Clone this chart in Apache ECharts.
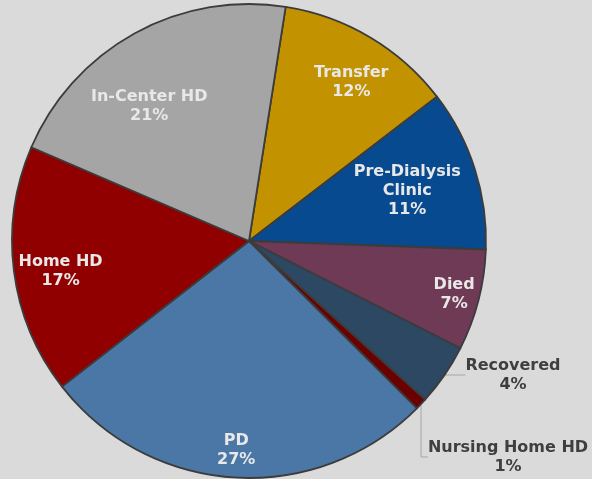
<!DOCTYPE html>
<html>
<head>
<meta charset="utf-8">
<script src="https://cdn.jsdelivr.net/npm/echarts@6/dist/echarts.min.js"></script>
<style>
  html, body { margin: 0; padding: 0; background: #dadada; }
  #chart { width: 592px; height: 479px; }
</style>
</head>
<body>
<div id="chart"></div>
<script>
// slice names, clockwise from just right of 12 o'clock
const categories = ['Transfer', 'Pre-Dialysis\nClinic', 'Died', 'Recovered', 'Nursing Home HD', 'PD', 'Home HD', 'In-Center HD']
const shares = [12.1, 11.0, 6.9, 4.2, 0.8, 27.0, 17.0, 21.0]
const colors = ['#c29200', '#074a8f', '#6e3a56', '#2d4862', '#6b0000', '#4a77a6', '#900000', '#a5a5a5']
const outsideLabels = ['Recovered', 'Nursing Home HD']

const CX = 249, CY = 241, R = 237
// how far out each inside label sits, as share of the radius, plus a small nudge
const labelDepth = [0.80, 0.69, 0.88, 0, 0, 0.87, 0.81, 0.72]
const labelNudge = { 0: [4, 7], 6: [5, 6], 7: [-16, 17] }
// where the two outside labels go
const outsidePos = { 3: [513, 375], 4: [508, 457] }

const chart = echarts.init(document.getElementById('chart'))

const labelFont = {
  fontFamily: 'DejaVu Sans',
  fontWeight: 'bold',
  fontSize: 16,
  lineHeight: 19,
  align: 'center'
}

const pctText = p => `${p.name}\n${Math.round(p.percent)}%`

const option = {
  backgroundColor: '#dadada',
  animation: false,
  series: [
    {
      type: 'pie',
      center: [CX, CY],
      radius: R,
      startAngle: 81.1,
      clockwise: true,
      avoidLabelOverlap: false,
      itemStyle: { borderColor: '#3c3c3c', borderWidth: 1.8 },
      label: { show: false },
      labelLine: { show: false },
      labelLayout: p => {
        const pos = outsidePos[p.dataIndex]
        if (!pos) return {}
        return { x: pos[0], y: pos[1], align: 'center', verticalAlign: 'middle' }
      },
      data: categories.map((name, i) => {
        const d = { name: name, value: shares[i], itemStyle: { color: colors[i] } }
        if (outsideLabels.includes(name)) {
          d.label = { show: true, position: 'outside', formatter: pctText, color: '#3f3f3f', ...labelFont }
          d.labelLine = { show: true, length: 10, length2: 20, lineStyle: { color: '#a6a6a6', width: 1 } }
        }
        return d
      })
    },
    {
      // transparent ring carrying the inside labels
      type: 'pie',
      silent: true,
      center: [CX, CY],
      radius: [142, R],
      startAngle: 81.1,
      clockwise: true,
      avoidLabelOverlap: false,
      itemStyle: { color: 'transparent' },
      labelLine: { show: false },
      label: {
        show: true,
        position: 'inside',
        formatter: p => outsideLabels.includes(p.name) ? '' : pctText(p),
        color: '#e8e8e8',
        ...labelFont
      },
      labelLayout: p => {
        const k = labelDepth[p.dataIndex] * R / ((142 + R) / 2)
        if (!k) return {}
        const nudge = labelNudge[p.dataIndex] || [0, 0]
        const lx = p.labelRect.x + p.labelRect.width / 2
        const ly = p.labelRect.y + p.labelRect.height / 2
        return {
          x: CX + (lx - CX) * k + nudge[0],
          y: CY + (ly - CY) * k + nudge[1],
          align: 'center',
          verticalAlign: 'middle'
        }
      },
      data: categories.map((name, i) => ({ name: name, value: shares[i] }))
    }
  ]
}

chart.setOption(option)
</script>
</body>
</html>
